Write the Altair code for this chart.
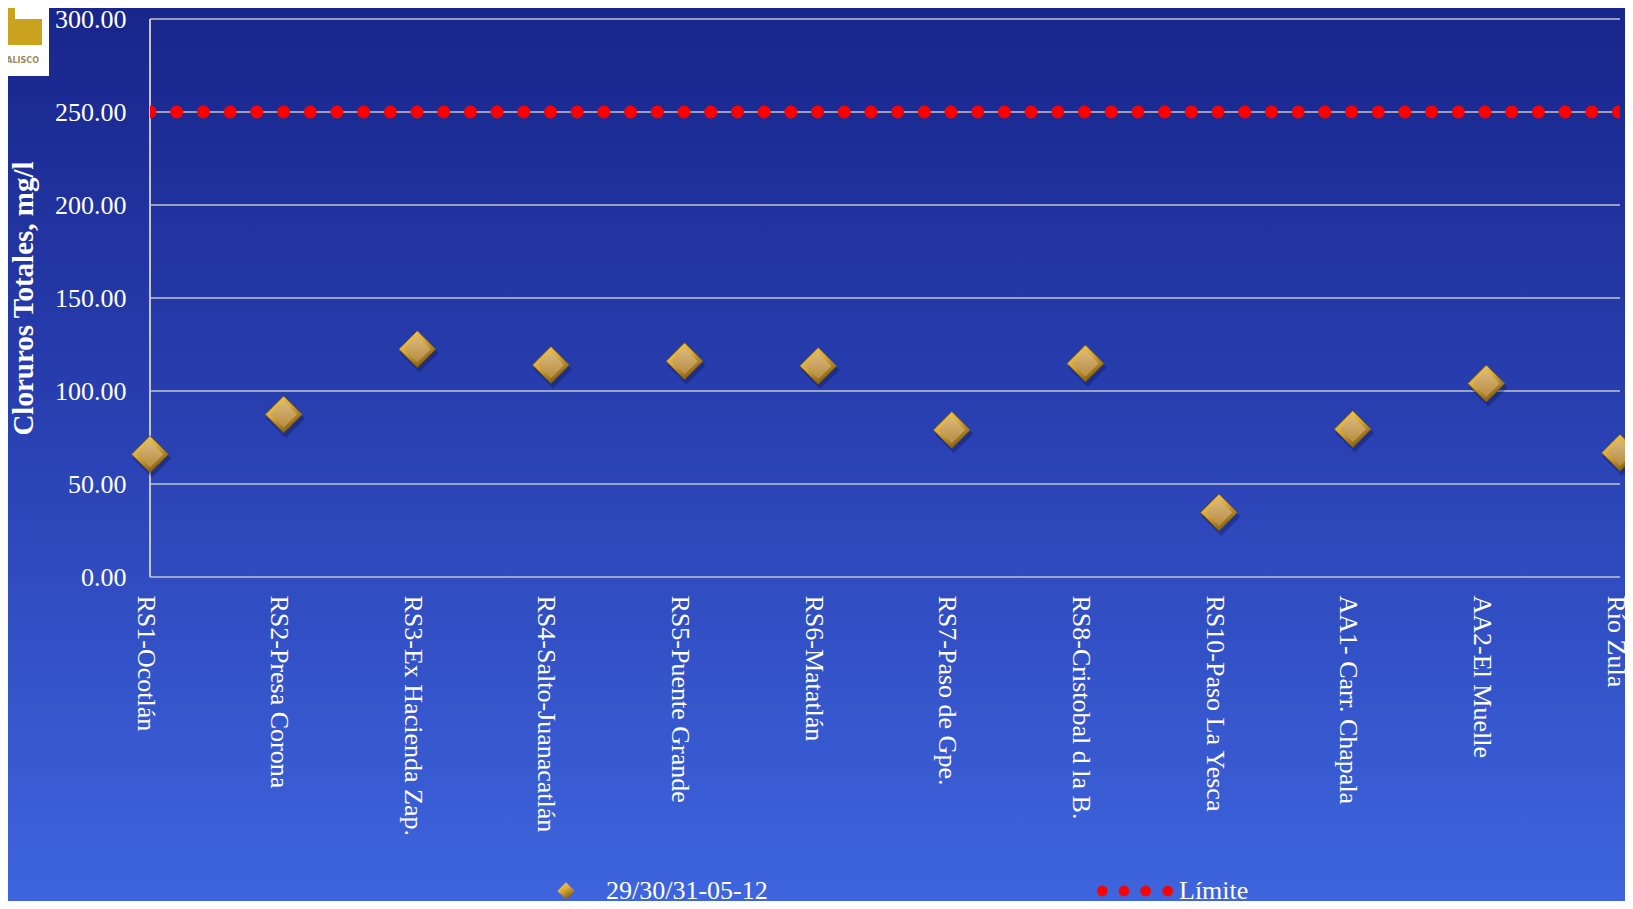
import altair as alt
import pandas as pd

# ---------------- data ----------------
stations = [
    "RS1-Ocotlán", "RS2-Presa Corona", "RS3-Ex Hacienda Zap.",
    "RS4-Salto-Juanacatlán", "RS5-Puente Grande", "RS6-Matatlán",
    "RS7-Paso de Gpe.", "RS8-Cristobal d la B.", "RS10-Paso La Yesca",
    "AA1- Carr. Chapala", "AA2-El Muelle", "Río Zula",
]
cloruros = [66.0, 87.4, 122.5, 114.0, 116.0, 113.5, 79.0, 114.8, 34.7, 79.5, 104.0, 66.8]
limite = [250, 250, 250, 250, 250, 250, 250, 250, 250, 250, 250, 250]
y_ticks = [0, 50, 100, 150, 200, 250, 300]
serie_muestreo = "29/30/31-05-12"
serie_limite = "Límite"
y_title = "Cloruros Totales, mg/l"

pts = pd.DataFrame({"station": stations, "value": cloruros, "serie_pt": serie_muestreo})
lim = pd.DataFrame({"station": stations, "value": limite, "serie_lim": serie_limite})
grid = pd.DataFrame({"value": y_ticks})
one = pd.DataFrame({"k": [0]})

# ---------------- layout ----------------
W, H = 1470, 558
PAD = {"left": 142, "top": 11, "right": 5, "bottom": 324}
FONT = "Liberation Serif"

xaxis = alt.Axis(
    title=None, grid=False, ticks=False, domain=False, labelAngle=90,
    labelColor="white", labelFont=FONT, labelFontSize=26, labelPadding=18,
    labelOffset=-5, labelOverlap=False, labelLimit=400, zindex=1,
)
yaxis = alt.Axis(
    title=y_title, grid=False, ticks=False, domain=False, values=y_ticks,
    format=".2f", labelColor="white", labelFont=FONT, labelFontSize=26,
    labelPadding=24, titleColor="white", titleFont=FONT, titleFontSize=29,
    titleFontWeight="bold", titleX=-127, titleY=H / 2, titleAngle=-90,
    titleAlign="center", titleBaseline="middle", zindex=1,
)

xenc = alt.X("station:N", sort=stations,
             scale=alt.Scale(type="point", padding=0, domain=stations), axis=xaxis)
yenc = alt.Y("value:Q", scale=alt.Scale(domain=[0, 300], nice=False, zero=True), axis=yaxis)

# background gradient (whole canvas)
bg = alt.Chart(one).mark_rect(
    fill=alt.Gradient(
        gradient="linear", x1=0, x2=0, y1=0, y2=1,
        stops=[alt.GradientStop(color="#18258b", offset=0),
               alt.GradientStop(color="#2a42b4", offset=0.5),
               alt.GradientStop(color="#3e65de", offset=1)],
    )
).encode(x=alt.value(-PAD["left"]), x2=alt.value(W + PAD["right"]),
         y=alt.value(-PAD["top"]), y2=alt.value(H + PAD["bottom"]))

# logo fragment (top-left)
logo_box = alt.Chart(one).mark_rect(color="white").encode(
    x=alt.value(-142), x2=alt.value(-101), y=alt.value(-11), y2=alt.value(57))
logo_stem = alt.Chart(one).mark_rect(color="#c9a21e").encode(
    x=alt.value(-142), x2=alt.value(-135), y=alt.value(-11), y2=alt.value(12))
logo_foot = alt.Chart(one).mark_rect(color="#c9a21e").encode(
    x=alt.value(-142), x2=alt.value(-108), y=alt.value(0), y2=alt.value(26))
logo_t = alt.Chart(one).mark_text(
    text="ALISCO", font="DejaVu Sans", fontSize=8, fontWeight="bold",
    color="#9c8a5a", align="right", baseline="middle",
).encode(x=alt.value(-111), y=alt.value(42))

# gridlines and y-axis line
gridlines = alt.Chart(grid).mark_rule(color="#c2c4cc", strokeWidth=1.6).encode(
    y=yenc, x=alt.value(0), x2=alt.value(W))
yline = alt.Chart(one).mark_rule(color="#c2c4cc", strokeWidth=2).encode(
    x=alt.value(0), y=alt.value(0), y2=alt.value(H))


def circle(cx, r):
    return (f"M{cx - r:.3f},0a{r},{r} 0 1,0 {2 * r:.3f},0"
            f"a{r},{r} 0 1,0 {-2 * r:.3f},0Z")


dots_path = "".join(circle(c, 0.14) for c in (-0.86, -0.29, 0.28, 0.86))

# limit line (round dots)
limit_line = alt.Chart(lim).mark_line(
    strokeDash=[0.01, 26.69], strokeWidth=13, strokeCap="round", clip=True,
).encode(
    x=xenc, y=yenc,
    color=alt.Color(
        "serie_lim:N",
        scale=alt.Scale(domain=[serie_limite], range=["#ff0000"]),
        legend=alt.Legend(
            title=None, orient="none", legendX=947, legendY=834, padding=0,
            symbolType=dots_path, symbolSize=5776, symbolStrokeWidth=0,
            symbolFillColor="#ff0000", symbolStrokeColor="#ff0000",
            labelColor="white", labelFont=FONT, labelFontSize=26, labelOffset=6,
            labelLimit=300,
        ),
    ),
)

# diamonds
shadow = alt.Chart(pts).mark_point(
    shape="diamond", filled=True, size=1480, color="#08114a", opacity=0.35,
    xOffset=2, yOffset=4,
).encode(x=xenc, y=yenc)

outer_grad = alt.Gradient(
    gradient="linear", x1=0, x2=0.6, y1=0, y2=1,
    stops=[alt.GradientStop(color="#f6d263", offset=0),
           alt.GradientStop(color="#d9a935", offset=0.5),
           alt.GradientStop(color="#7e5b12", offset=1)],
)
outer = alt.Chart(pts).mark_point(
    filled=True, size=1369, fill=outer_grad, stroke="#6e500e", strokeWidth=0.8,
    opacity=1,
).encode(
    x=xenc, y=yenc,
    shape=alt.Shape(
        "serie_pt:N",
        scale=alt.Scale(domain=[serie_muestreo], range=["diamond"]),
        legend=alt.Legend(
            title=None, orient="none", legendX=403, legendY=859, padding=0,
            symbolSize=300, symbolFillColor="#d9a935", symbolStrokeColor="#8a6a18",
            symbolStrokeWidth=1, symbolOpacity=1,
            labelColor="white", labelFont=FONT, labelFontSize=26, labelOffset=27,
            labelLimit=400,
        ),
    ),
)

inner_grad = alt.Gradient(
    gradient="linear", x1=0, x2=0, y1=0, y2=1,
    stops=[alt.GradientStop(color="#d9b97e", offset=0),
           alt.GradientStop(color="#b88c40", offset=1)],
)
inner = alt.Chart(pts).mark_point(
    shape="diamond", filled=True, size=700, fill=inner_grad, strokeWidth=0, opacity=1,
).encode(x=xenc, y=yenc)

chart = alt.layer(
    bg, logo_box, logo_stem, logo_foot, logo_t, gridlines, yline, limit_line,
    shadow, outer, inner
).properties(
    width=W, height=H, padding=PAD,
    autosize=alt.AutoSizeParams(type="none"),
    background="#2a44b8",
).configure_view(stroke=None)

chart.save("out.html", embed_options={"renderer": "svg", "actions": False})
